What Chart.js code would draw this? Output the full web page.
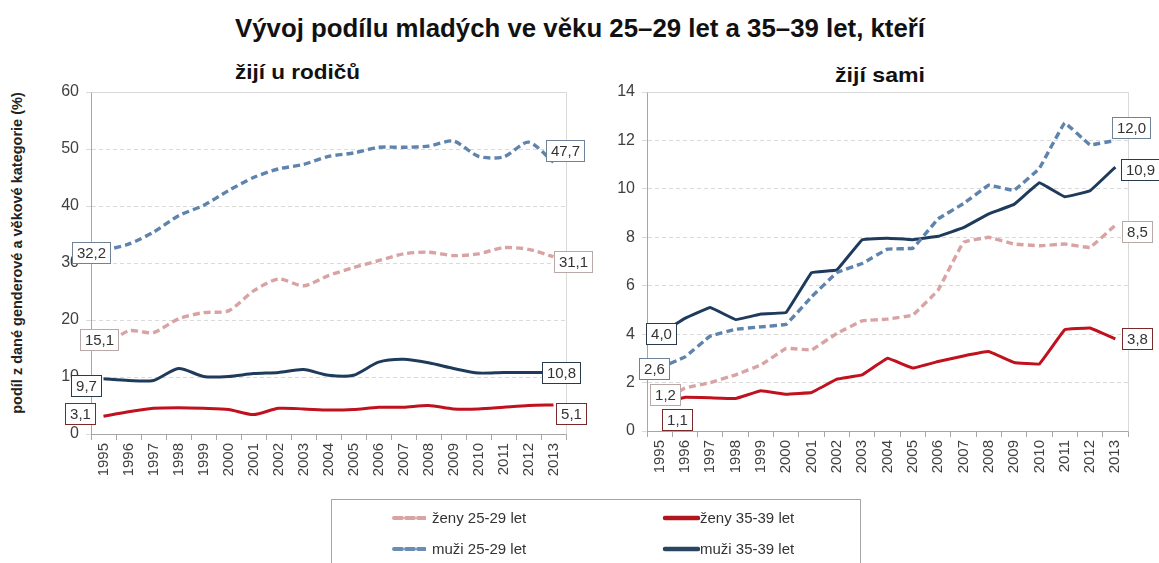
<!DOCTYPE html>
<html>
<head>
<meta charset="utf-8">
<script src="https://cdn.jsdelivr.net/npm/chart.js@4.4.0/dist/chart.umd.min.js"></script>
<style>
  html, body { margin:0; padding:0; background:#fff; }
  body { width:1159px; height:563px; position:relative; overflow:hidden; font-family:"Liberation Sans", Arial, sans-serif; }
  .abs { position:absolute; white-space:nowrap; }
  #title { font-weight:bold; font-size:26px; color:#111; top:12px; left:235px; transform-origin:0 0; line-height:32px; }
  .sub { font-weight:bold; font-size:21px; color:#111; transform-origin:0 0; line-height:26px; }
  #ytitle { font-weight:bold; font-size:14.5px; color:#222; left:17px; top:253px; transform:translate(-50%,-50%) rotate(-90deg); }
  #legend { left:331px; top:499px; width:530px; height:90px; border:1px solid #a6a6a6; box-sizing:border-box; }
  .lg { position:absolute; font-size:15px; color:#333; line-height:18px; display:flex; align-items:center; }
  .lg svg { display:block; }
  canvas { position:absolute; top:0; }
</style>
</head>
<body>
<div id="title" class="abs">Vývoj podílu mladých ve věku 25–29 let a 35–39 let, kteří</div>
<div id="sub1" class="abs sub" style="left:235px; top:59px;">žijí u rodičů</div>
<div id="sub2" class="abs sub" style="left:835px; top:62px;">žijí sami</div>
<div id="ytitle" class="abs">podíl z dané genderové a věkové kategorie (%)</div>
<canvas id="c1" width="600" height="500" style="left:0px;"></canvas>
<canvas id="c2" width="559" height="500" style="left:600px;"></canvas>
<div id="legend" class="abs">
  <div class="lg" style="left:60px; top:9px;"><svg width="34" height="8"><line x1="2" y1="4" x2="33" y2="4" stroke="#d9a3a3" stroke-width="4" stroke-dasharray="8 4" stroke-linecap="round"/></svg><span style="margin-left:6px">ženy 25-29 let</span></div>
  <div class="lg" style="left:60px; top:40px;"><svg width="34" height="8"><line x1="2" y1="4" x2="33" y2="4" stroke="#6a8db3" stroke-width="4" stroke-dasharray="8 4" stroke-linecap="round"/></svg><span style="margin-left:6px">muži 25-29 let</span></div>
  <div class="lg" style="left:330px; top:9px;"><svg width="38" height="8"><line x1="3" y1="4" x2="36" y2="4" stroke="#b01520" stroke-width="4.5" stroke-linecap="round"/></svg><span style="margin-left:0px">ženy 35-39 let</span></div>
  <div class="lg" style="left:330px; top:40px;"><svg width="38" height="8"><line x1="3" y1="4" x2="36" y2="4" stroke="#2a4560" stroke-width="4.5" stroke-linecap="round"/></svg><span style="margin-left:0px">muži 35-39 let</span></div>
</div>
<script>
// ---- data ----
const years = ['1995','1996','1997','1998','1999','2000','2001','2002','2003','2004','2005','2006','2007','2008','2009','2010','2011','2012','2013'];

// žijí u rodičů
const parentsWomen2529 = [15.1,18.1,17.8,20.2,21.3,21.6,25.1,27.2,26.0,27.8,29.2,30.4,31.6,31.9,31.3,31.6,32.7,32.4,31.1];
const parentsWomen3539 = [3.1,3.9,4.5,4.6,4.5,4.3,3.4,4.5,4.4,4.2,4.3,4.7,4.7,5.0,4.4,4.4,4.7,5.0,5.1];
const parentsMen2529   = [32.2,33.3,35.4,38.3,40.1,42.7,45.0,46.5,47.3,48.7,49.3,50.3,50.3,50.5,51.4,48.7,48.6,51.2,47.7];
const parentsMen3539   = [9.7,9.4,9.4,11.5,10.1,10.1,10.6,10.8,11.3,10.3,10.3,12.6,13.1,12.5,11.5,10.7,10.8,10.8,10.8];

// žijí sami
const aloneWomen2529 = [1.2,1.77,2.0,2.32,2.73,3.41,3.35,4.03,4.55,4.62,4.79,5.82,7.8,8.0,7.72,7.65,7.72,7.58,8.5];
const aloneWomen3539 = [1.1,1.39,1.37,1.34,1.66,1.52,1.59,2.14,2.32,3.0,2.6,2.87,3.1,3.28,2.83,2.77,4.18,4.25,3.8];
const aloneMen2529   = [2.6,3.06,3.92,4.2,4.3,4.41,5.54,6.54,6.92,7.51,7.55,8.76,9.39,10.15,9.94,10.85,12.72,11.82,12.0];
const aloneMen3539   = [4.0,4.65,5.1,4.6,4.83,4.9,6.54,6.65,7.9,7.96,7.9,8.04,8.4,8.97,9.36,10.25,9.67,9.92,10.9];

const seriesNames = ['ženy 25-29 let','ženy 35-39 let','muži 25-29 let','muži 35-39 let'];
const leftTicks  = {min:0, max:60, step:10};
const rightTicks = {min:0, max:14, step:2};

// ---- styles ----
const COL = { w25:'#d9a3a3', w35:'#c0111f', m25:'#5e83ad', m35:'#1f3b5c' };
const FONT = '"Liberation Sans", Arial, sans-serif';

function fitWidth(id, w){
  const el = document.getElementById(id);
  const r = el.getBoundingClientRect().width;
  el.style.transform = 'scaleX(' + (w / r) + ')';
}
fitWidth('title', 690);
fitWidth('sub1', 125);
fitWidth('sub2', 90);

const fmt = v => v.toFixed(1).replace('.', ',');

const boxLabels = {
  id:'boxLabels',
  afterDraw(chart, args, opts){
    const ctx = chart.ctx;
    ctx.save();
    ctx.font = '15px ' + FONT;
    opts.items.forEach(it => {
      const pt = chart.getDatasetMeta(it.ds).data[it.idx];
      const txt = fmt(chart.data.datasets[it.ds].data[it.idx]);
      const w = Math.round(ctx.measureText(txt).width + 9), h = 21;
      const x0 = Math.round(pt.x + it.dx - w/2), y0 = Math.round(pt.y + it.dy - h/2);
      ctx.fillStyle = '#fff';
      ctx.fillRect(x0, y0, w, h);
      ctx.strokeStyle = it.border; ctx.lineWidth = 1;
      ctx.strokeRect(x0 + 0.5, y0 + 0.5, w, h);
      ctx.fillStyle = '#333'; ctx.textAlign = 'center'; ctx.textBaseline = 'middle';
      ctx.fillText(txt, x0 + w/2 + 0.5, y0 + h/2 + 1.5);
    });
    ctx.restore();
  }
};
const plotFrame = {
  id:'plotFrame',
  beforeDatasetsDraw(chart){
    const a = chart.chartArea, ctx = chart.ctx;
    ctx.save();
    ctx.strokeStyle = '#d9d9d9'; ctx.lineWidth = 1;
    ctx.beginPath();
    ctx.moveTo(Math.round(a.left)+0.5, Math.round(a.top)+0.5);
    ctx.lineTo(Math.round(a.right)+0.5, Math.round(a.top)+0.5);
    ctx.lineTo(Math.round(a.right)+0.5, Math.round(a.bottom)+0.5);
    ctx.stroke();
    ctx.restore();
  }
};

function makeDatasets(w25, w35, m25, m35, tension){
  const base = { pointRadius:0, fill:false, tension:tension, borderJoinStyle:'round' };
  return [
    Object.assign({}, base, { label:seriesNames[0], data:w25, borderColor:COL.w25, borderWidth:3.4, borderDash:[7,4] }),
    Object.assign({}, base, { label:seriesNames[1], data:w35, borderColor:COL.w35, borderWidth:3 }),
    Object.assign({}, base, { label:seriesNames[2], data:m25, borderColor:COL.m25, borderWidth:3.4, borderDash:[7,4] }),
    Object.assign({}, base, { label:seriesNames[3], data:m35, borderColor:COL.m35, borderWidth:3 })
  ];
}

function makeOptions(t, yWidth, xHeight, padRight, tickFont, labels){
  return {
    responsive:false, animation:false, devicePixelRatio:1,
    layout:{ padding:{ top:92, right:padRight, bottom:0, left:0 } },
    plugins:{ legend:{display:false}, tooltip:{enabled:false}, boxLabels:{ items:labels } },
    scales:{
      x:{
        type:'category', offset:true,
        grid:{ offset:true, drawOnChartArea:false, tickLength:6, color:'#a6a6a6' },
        border:{ color:'#a6a6a6', width:1 },
        ticks:{ minRotation:90, maxRotation:90, autoSkip:false, padding:3, color:'#404040', font:{ family:FONT, size:15 } },
        afterFit(s){ s.height = xHeight; }
      },
      y:{
        min:t.min, max:t.max,
        grid:{ color:'#dadada', tickLength:5, drawTicks:true },
        border:{ color:'#a6a6a6', width:1, dash:[4,3] },
        ticks:{ stepSize:t.step, padding:7, color:'#404040', font:{ family:FONT, size:tickFont } },
        afterFit(s){ s.width = yWidth; }
      }
    }
  };
}

new Chart(document.getElementById('c1'), {
  type:'line',
  data:{ labels:years, datasets:makeDatasets(parentsWomen2529, parentsWomen3539, parentsMen2529, parentsMen3539, 0.25) },
  options:makeOptions(leftTicks, 91, 66, 34, 16, [
    {ds:2, idx:0,  dx:-13, dy:2,   border:'#6f8296'},
    {ds:2, idx:18, dx:11,  dy:-12, border:'#6f8296'},
    {ds:0, idx:0,  dx:-5,  dy:-8,  border:'#b8a8a8'},
    {ds:0, idx:18, dx:19,  dy:5,   border:'#b8a8a8'},
    {ds:3, idx:0,  dx:-18, dy:7,   border:'#2a3a4a'},
    {ds:3, idx:18, dx:7,   dy:0,   border:'#2a3a4a'},
    {ds:1, idx:0,  dx:-24, dy:-3,  border:'#7a2a2a'},
    {ds:1, idx:18, dx:17,  dy:9,   border:'#7a2a2a'}
  ]),
  plugins:[plotFrame, boxLabels]
});

new Chart(document.getElementById('c2'), {
  type:'line',
  data:{ labels:years, datasets:makeDatasets(aloneWomen2529, aloneWomen3539, aloneMen2529, aloneMen3539, 0.05) },
  options:makeOptions(rightTicks, 47, 69, 31, 16, [
    {ds:3, idx:0,  dx:1,   dy:-1,  border:'#2a3a4a'},
    {ds:3, idx:18, dx:25,  dy:2,   border:'#2a3a4a'},
    {ds:2, idx:0,  dx:-6,  dy:0,   border:'#6f8296'},
    {ds:2, idx:18, dx:16,  dy:-13, border:'#6f8296'},
    {ds:0, idx:0,  dx:5,   dy:-7,  border:'#b8a8a8'},
    {ds:0, idx:18, dx:22,  dy:6,   border:'#b8a8a8'},
    {ds:1, idx:0,  dx:17,  dy:15,  border:'#7a2a2a'},
    {ds:1, idx:18, dx:22,  dy:0,   border:'#7a2a2a'}
  ]),
  plugins:[plotFrame, boxLabels]
});
</script>
</body>
</html>
